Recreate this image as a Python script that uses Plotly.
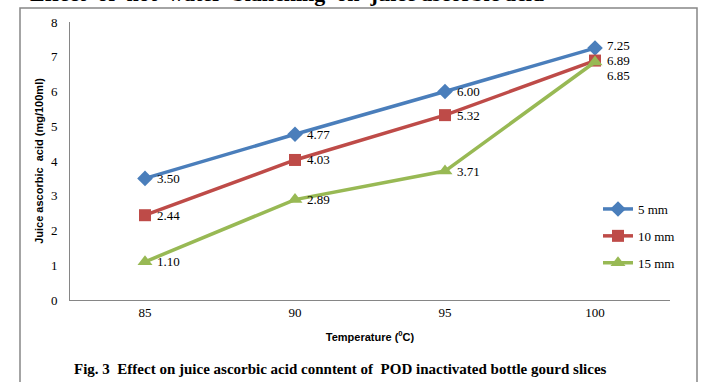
import plotly.graph_objects as go

temps = ["85", "90", "95", "100"]
s5 = [3.50, 4.77, 6.00, 7.25]
s10 = [2.44, 4.03, 5.32, 6.89]
s15 = [1.10, 2.89, 3.71, 6.85]
names = ["5 mm", "10 mm", "15 mm"]
colors = ["#4A7EBB", "#BE4B48", "#98B954"]
symbols = ["diamond", "square", "triangle-up"]

W, H = 705, 382
L, R, T, B = 70, 35, 22, 82
pw, ph = W - L - R, H - T - B

def px(x):
    return (x - L) / pw

def py(y):
    return (H - B - y) / ph

fig = go.Figure()
series = [s5, s10, s15]
# vertical nudges (pixels) for crowded labels at the last category
label_shift = {(0, 3): 3, (2, 3): -14}
label_ann = []
for i, s in enumerate(series):
    fig.add_trace(go.Scatter(
        x=temps, y=s, name=names[i], mode="lines+markers",
        line=dict(color=colors[i], width=3.5),
        marker=dict(symbol=symbols[i], size=12 if i != 2 else 13, color=colors[i]),
        legendgroup=names[i],
        cliponaxis=False,
    ))
    for j, v in enumerate(s):
        # on a category axis, position j is the j-th category (temps[j])
        label_ann.append(dict(
            x=j, y=v, xref="x", yref="y", text=f"{v:.2f}",
            showarrow=False, xanchor="left", yanchor="middle",
            xshift=10, yshift=label_shift.get((i, j), 0),
            font=dict(family="Liberation Serif", size=13, color="#000"),
        ))

fig.update_layout(
    width=W, height=H, margin=dict(l=L, r=R, t=T, b=B),
    plot_bgcolor="white", paper_bgcolor="white",
    showlegend=True,
    legend=dict(x=px(598), y=py(194), xanchor="left", yanchor="top",
                font=dict(family="Liberation Serif", size=13, color="#000"),
                tracegroupgap=7, bgcolor="rgba(0,0,0,0)", itemwidth=30),
    xaxis=dict(type="category", range=[-0.5, 3.5],
               showline=True, linecolor="#868686", linewidth=1, showgrid=False,
               ticks="", tickfont=dict(family="Liberation Serif", size=13, color="#000"),
               title=dict(text="Temperature (<sup>0</sup>C)",
                          font=dict(family="Liberation Sans", size=11, color="#000", weight="bold"),
                          standoff=14),
               zeroline=False),
    yaxis=dict(range=[0, 8], dtick=1, showline=True, linecolor="#868686", linewidth=1,
               showgrid=False, zeroline=False, ticks="", ticklabelstandoff=9,
               tickfont=dict(family="Liberation Serif", size=13, color="#000"),
               title=dict(text="Juice ascorbic  acid (mg/100ml)",
                          font=dict(family="Liberation Sans", size=11, color="#000", weight="bold"),
                          standoff=5)),
    shapes=[dict(type="rect", xref="paper", yref="paper",
                 x0=px(20), x1=px(697), y0=py(395), y1=py(8),
                 line=dict(color="#868686", width=1.5), fillcolor="rgba(0,0,0,0)")],
    annotations=label_ann + [
        dict(text="<b>Effect  of  hot  water  blanching  on  juice ascorbic acid</b>",
             xref="paper", yref="paper", x=px(28), y=py(-6), xanchor="left", yanchor="middle",
             showarrow=False, font=dict(family="Liberation Serif", size=22, color="#000")),
        dict(text="<b>Fig. 3  Effect on juice ascorbic acid conntent of  POD inactivated bottle gourd slices</b>",
             xref="paper", yref="paper", x=px(72), y=py(369), xanchor="left", yanchor="middle",
             showarrow=False, font=dict(family="Liberation Serif", size=15, color="#000")),
    ],
)

fig.write_html("out.html")
